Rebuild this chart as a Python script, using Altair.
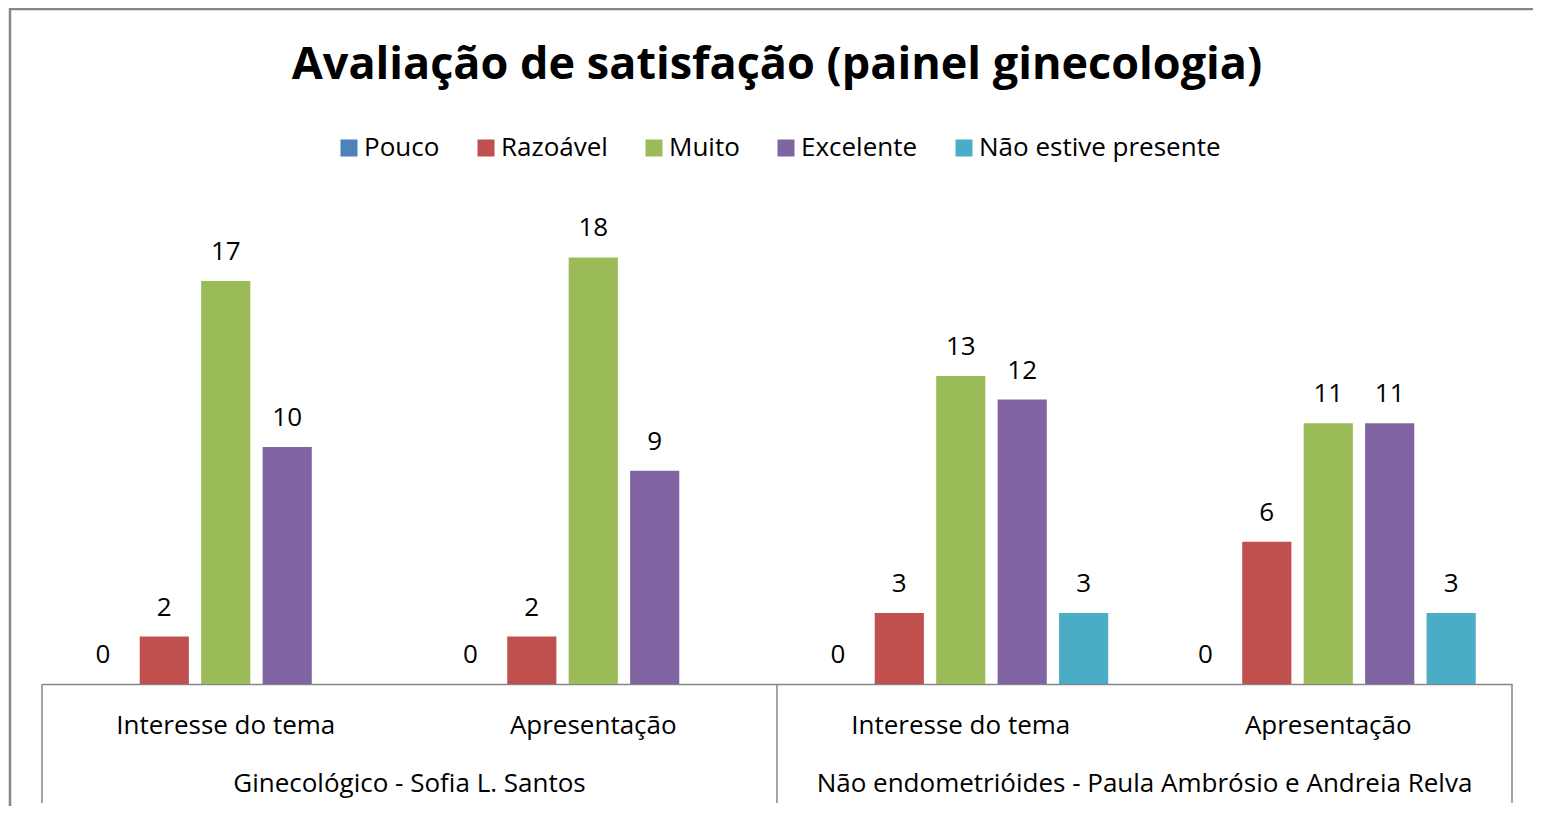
import altair as alt
import pandas as pd

series = ["Pouco", "Razoável", "Muito", "Excelente", "Não estive presente"]
colors = ["#4F81BD", "#C0504D", "#9BBB59", "#8064A2", "#4BACC6"]
groups = ["Ginecológico - Sofia L. Santos",
          "Não endometrióides - Paula Ambrósio e Andreia Relva"]
subcats = ["Interesse do tema", "Apresentação"]

gin_interesse = [0, 2, 17, 10, None]
gin_apresentacao = [0, 2, 18, 9, None]
ne_interesse = [0, 3, 13, 12, 3]
ne_apresentacao = [0, 6, 11, 11, 3]

values = [gin_interesse, gin_apresentacao, ne_interesse, ne_apresentacao]
keys = [f"{g}|{s}" for g in groups for s in subcats]

rows = []
for k, vals in zip(keys, values):
    for s, v in zip(series, vals):
        if v is not None:
            rows.append({"cat": k, "serie": s, "valor": v})
df = pd.DataFrame(rows)

W, H = 1470, 474
PL, PT, PR, PB = 34, 202, 21, 122
FONT = "Open Sans"
FS = 26

xs = alt.X("cat:N", sort=keys, scale=alt.Scale(domain=keys, paddingInner=0, paddingOuter=0),
           axis=alt.Axis(title=None, ticks=False, labelAngle=0, domainColor="#868686",
                         domainWidth=1.5, labelFont=FONT, labelFontSize=FS, labelColor="#000000",
                         labelBaseline="alphabetic", labelPadding=49, labelLimit=0,
                         labelExpr="split(datum.label, '|')[1]"))
xo = alt.XOffset("serie:N", sort=series,
                 scale=alt.Scale(domain=series, paddingInner=0.2, paddingOuter=0.59))
ys = alt.Y("valor:Q", scale=alt.Scale(domain=[0, 20], nice=False), axis=None)
col = alt.Color("serie:N", sort=series, scale=alt.Scale(domain=series, range=colors),
                legend=alt.Legend(title=None, orient="none", direction="horizontal",
                                  legendX=294, legendY=-75, labelFont=FONT, labelFontSize=FS,
                                  labelColor="#000000", symbolType="square", symbolSize=289,
                                  symbolStrokeWidth=0, columnPadding=33, labelOffset=2,
                                  labelLimit=0))

bars = alt.Chart(df).mark_bar().encode(x=xs, xOffset=xo, y=ys, color=col)
labels = alt.Chart(df).mark_text(baseline="alphabetic", dy=-21, font=FONT, fontSize=FS,
                                 color="#000000").encode(
    x=alt.X("cat:N", sort=keys), xOffset=xo, y=ys, text="valor:Q")

sep_df = pd.DataFrame({"cat": [keys[0], keys[2]]})
seps = alt.Chart(sep_df).mark_rule(color="#868686", strokeWidth=1.5).encode(
    x=alt.X("cat:N", sort=keys, bandPosition=0), y=alt.value(H), y2=alt.value(H + 119))
sep_end = alt.Chart(pd.DataFrame({"cat": [keys[3]]})).mark_rule(color="#868686", strokeWidth=1.5).encode(
    x=alt.X("cat:N", sort=keys, bandPosition=1), y=alt.value(H), y2=alt.value(H + 119))

grp_df = pd.DataFrame({"cat": [keys[0], keys[2]], "grupo": groups})
grp = alt.Chart(grp_df).mark_text(baseline="alphabetic", font=FONT, fontSize=FS,
                                  color="#000000").encode(
    x=alt.X("cat:N", sort=keys, bandPosition=1), y=alt.value(H + 108), text="grupo:N")

border = alt.Chart(pd.DataFrame({"a": [0]})).mark_rect(
    filled=False, stroke="#868686", strokeWidth=2.5).encode(
    x=alt.value(-PL + 2), y=alt.value(-PT + 1), x2=alt.value(W + 200), y2=alt.value(H + 300))

chart = alt.layer(border, bars, labels, seps, sep_end, grp).properties(
    width=W, height=H,
    title=alt.TitleParams("Avaliação de satisfação (painel ginecologia)", font=FONT,
                          fontSize=45, fontWeight="bold", color="#000000", anchor="middle",
                          baseline="alphabetic", offset=0, dy=116),
    autosize=alt.AutoSizeParams(type="none"),
    padding={"left": PL, "top": PT, "right": PR, "bottom": PB},
    background="#ffffff",
).configure_view(strokeWidth=0, stroke="transparent")

chart.save("out.html", embed_options={"renderer": "svg", "actions": False})
